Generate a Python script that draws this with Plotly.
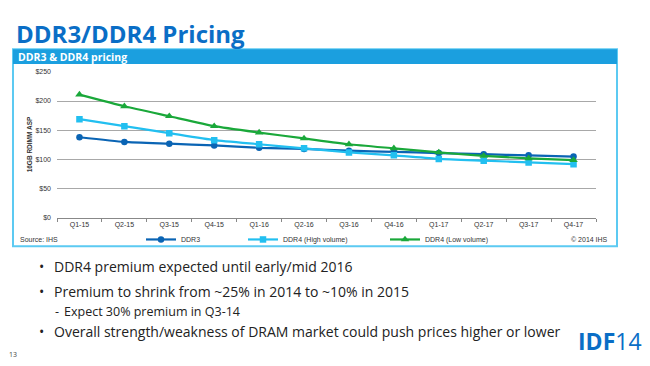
import plotly.graph_objects as go

quarters = ["Q1-15", "Q2-15", "Q3-15", "Q4-15", "Q1-16", "Q2-16",
            "Q3-16", "Q4-16", "Q1-17", "Q2-17", "Q3-17", "Q4-17"]
ddr3 = [138, 130, 127, 124, 120, 118, 115, 113, 111, 109, 107, 105]
ddr4_high = [169, 157, 145, 133, 126, 119, 112, 107, 101, 98, 95, 92]
ddr4_low = [211, 191, 174, 157, 146, 136, 126, 119, 112, 106, 102, 99]
y_ticks = [0, 50, 100, 150, 200, 250]
y_tick_labels = ["$0", "$50", "$100", "$150", "$200", "$250"]

# page body has an 8px default margin; figure fills the rest of the 650x366 window
OFF = 8
W, H = 650 - OFF, 366 - OFF

def px(x):
    return (x - OFF) / W

def py(y):
    return 1 - (y - OFF) / H

C_DDR3 = "#0a64b4"
C_HIGH = "#22bff0"
C_LOW = "#1aa83a"
TITLE_BLUE = "#0a6ec6"
BANNER = "#1b9fdf"
BORDER = "#5ccaf2"
AX_FONT = dict(family="Liberation Sans, Arial", size=7, color="#333333")

fig = go.Figure()
fig.add_trace(go.Scatter(
    x=quarters, y=ddr3, name="DDR3", mode="lines+markers",
    line=dict(color=C_DDR3, width=2.2, shape="spline", smoothing=0.5),
    marker=dict(symbol="circle", size=6.5, color=C_DDR3), legend="legend"))
fig.add_trace(go.Scatter(
    x=quarters, y=ddr4_high, name="DDR4 (High volume)", mode="lines+markers",
    line=dict(color=C_HIGH, width=2.2, shape="spline", smoothing=0.5),
    marker=dict(symbol="square", size=6.5, color=C_HIGH), legend="legend2"))
fig.add_trace(go.Scatter(
    x=quarters, y=ddr4_low, name="DDR4 (Low volume)", mode="lines+markers",
    line=dict(color=C_LOW, width=2.2, shape="spline", smoothing=0.5),
    marker=dict(symbol="triangle-up", size=7.5, color=C_LOW), legend="legend3"))

leg_common = dict(orientation="h", xanchor="left", yanchor="middle",
                  font=dict(family="Liberation Sans, Arial", size=7, color="#333333"),
                  bgcolor="rgba(0,0,0,0)", itemwidth=30, tracegroupgap=0)

shapes = [
    dict(type="rect", xref="paper", yref="paper", x0=px(13), x1=px(617),
         y0=py(247), y1=py(46), line=dict(color=BORDER, width=2), fillcolor="rgba(0,0,0,0)",
         layer="below"),
    dict(type="rect", xref="paper", yref="paper", x0=px(13), x1=px(617),
         y0=py(61), y1=py(46), line=dict(width=0), fillcolor=BANNER, layer="below"),
]

annotations = [
    dict(text="<b>DDR3/DDR4 Pricing</b>", x=px(14), y=py(29.5), xref="paper", yref="paper",
         xanchor="left", yanchor="middle", showarrow=False,
         font=dict(family="Open Sans", size=24, color=TITLE_BLUE)),
    dict(text="<b>DDR3 &amp; DDR4 pricing</b>", x=px(16), y=py(53.5), xref="paper", yref="paper",
         xanchor="left", yanchor="middle", showarrow=False,
         font=dict(family="Open Sans", size=10.5, color="white")),
    dict(text="<b>16GB RDIMM ASP</b>", x=px(29), y=py(143), xref="paper", yref="paper",
         xanchor="center", yanchor="middle", showarrow=False, textangle=-90,
         font=dict(family="Liberation Sans, Arial", size=6.5, color="#333333")),
    dict(text="Source: IHS", x=px(18), y=py(240), xref="paper", yref="paper",
         xanchor="left", yanchor="middle", showarrow=False,
         font=dict(family="Liberation Sans, Arial", size=7, color="#333333")),
    dict(text="© 2014 IHS", x=px(610), y=py(240), xref="paper", yref="paper",
         xanchor="right", yanchor="middle", showarrow=False,
         font=dict(family="Liberation Sans, Arial", size=7, color="#333333")),
]

bullets = [
    ("•", "DDR4 premium expected until early/mid 2016", 37, 268),
    ("•", "Premium to shrink from ~25% in 2014 to ~10% in 2015", 37, 293),
    ("-", "Expect 30% premium in Q3-14", 53, 313),
    ("•", "Overall strength/weakness of DRAM market could push prices higher or lower", 37, 334),
]
for sym, txt, bx, by in bullets:
    small = sym == "-"
    fsize = 12.5 if small else 14
    annotations.append(dict(text=sym, x=px(bx), y=py(by), xref="paper", yref="paper",
                            xanchor="left", yanchor="middle", showarrow=False,
                            font=dict(family="Open Sans", size=fsize, color="#222222")))
    annotations.append(dict(text=txt, x=px(bx + (9 if small else 15)), y=py(by), xref="paper",
                            yref="paper", xanchor="left", yanchor="middle", showarrow=False,
                            font=dict(family="Open Sans", size=fsize, color="#222222")))

annotations.append(dict(text="13", x=px(7), y=py(357), xref="paper", yref="paper",
                        xanchor="left", yanchor="middle", showarrow=False,
                        font=dict(family="Open Sans", size=7, color="#444444")))
annotations.append(dict(text="<b>IDF</b>14", x=px(644), y=py(344), xref="paper", yref="paper",
                        xanchor="right", yanchor="middle", showarrow=False,
                        font=dict(family="Open Sans", size=23, color=TITLE_BLUE)))

fig.update_layout(
    width=W, height=H,
    margin=dict(l=0, r=0, t=0, b=0, pad=0),
    paper_bgcolor="white", plot_bgcolor="white",
    showlegend=True,
    legend=dict(x=px(141), y=py(240), **leg_common),
    legend2=dict(x=px(243), y=py(240), **leg_common),
    legend3=dict(x=px(385), y=py(240), **leg_common),
    shapes=shapes, annotations=annotations,
    xaxis=dict(domain=[px(57), px(596)], type="category", range=[-0.5, 11.5],
               showgrid=False, showline=True, linecolor="#888888", linewidth=1,
               ticks="outside", tickson="boundaries", ticklen=3, tickcolor="#888888",
               tickfont=AX_FONT, zeroline=False, fixedrange=True),
    yaxis=dict(domain=[py(218), py(69)], range=[0, 250], tickvals=y_ticks,
               ticktext=y_tick_labels, showgrid=True, gridcolor="#a8a8a8", gridwidth=1,
               showline=False, zeroline=False, ticks="", tickfont=AX_FONT,
               ticklabelstandoff=5, fixedrange=True),
)

fig.write_html("out.html")
